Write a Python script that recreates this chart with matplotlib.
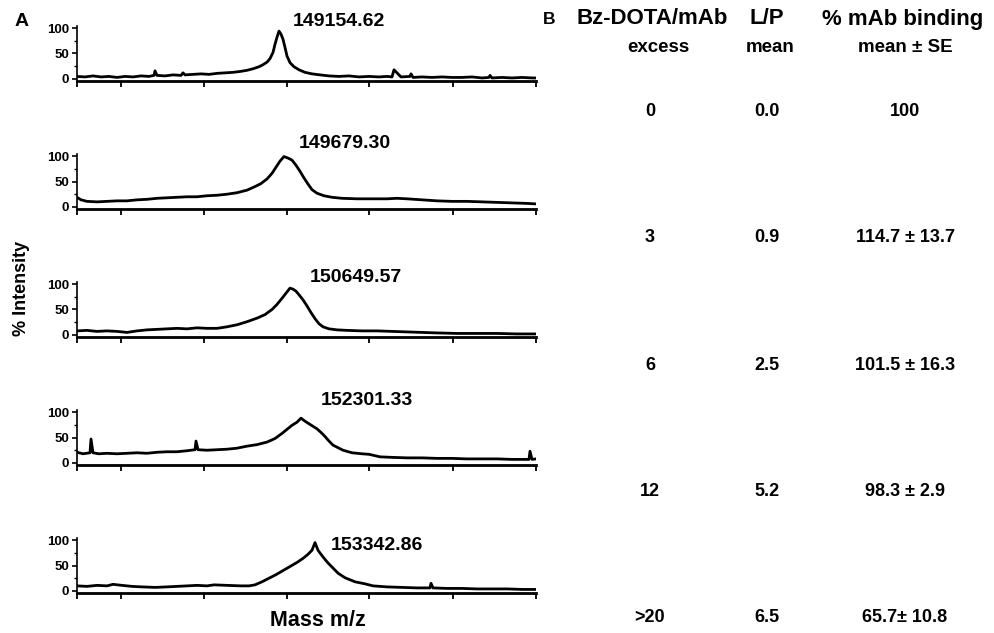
import matplotlib.pyplot as plt

plt.rcParams['font.family'] = ['Liberation Sans', 'DejaVu Sans']

# spectra (x = channel along the m/z axis, y = % intensity)
x1 = [0, 8, 16, 24, 32, 40, 48, 56, 64, 72, 77, 78, 80, 88, 96, 104, 106, 108, 116, 124,
      132, 140, 148, 156, 164, 170, 176, 182, 186, 190, 193, 196, 198, 200, 202, 204, 206, 208, 210, 213,
      217, 222, 228, 235, 243, 252, 262, 272, 282, 292, 302, 310, 315, 317, 324, 333, 334, 336, 345, 355,
      365, 375, 385, 395, 405, 412, 413, 415, 425, 435, 445, 455, 460]
y1 = [5, 4, 6, 4, 5, 3, 5, 4, 6, 5, 7, 16, 7, 6, 8, 7, 12, 8, 9, 10,
      9, 11, 12, 13, 15, 17, 20, 24, 28, 33, 40, 52, 68, 82, 94, 88, 78, 62, 45, 32,
      24, 18, 13, 10, 8, 6, 5, 6, 4, 5, 4, 5, 4, 18, 4, 5, 10, 3, 4, 3,
      4, 3, 3, 4, 2, 3, 7, 2, 3, 2, 3, 2, 2]

x2 = [0, 4, 10, 20, 30, 40, 50, 60, 70, 80, 90, 100, 110, 120, 130, 140, 150, 160, 170, 178,
      184, 190, 195, 199, 203, 207, 211, 215, 219, 223, 227, 231, 235, 240, 247, 255, 265, 280, 295, 310,
      320, 330, 345, 360, 375, 390, 405, 420, 435, 450, 459]
y2 = [19, 14, 11, 10, 11, 12, 12, 14, 15, 17, 18, 19, 20, 20, 22, 23, 25, 28, 33, 40,
      46, 55, 66, 78, 90, 99, 96, 92, 82, 70, 57, 45, 34, 27, 22, 19, 17, 16, 16, 16,
      17, 16, 14, 12, 11, 11, 10, 9, 8, 7, 6]

x3 = [0, 10, 20, 30, 40, 50, 60, 70, 80, 90, 100, 110, 120, 130, 140, 150, 160, 170, 180, 188,
      195, 200, 205, 209, 213, 216, 219, 222, 226, 230, 234, 238, 242, 246, 252, 260, 270, 285, 300, 315,
      330, 345, 360, 380, 400, 420, 440, 459]
y3 = [8, 9, 7, 8, 7, 5, 8, 10, 11, 12, 13, 12, 14, 13, 13, 16, 20, 26, 33, 40,
      50, 60, 72, 82, 92, 90, 86, 79, 69, 57, 44, 32, 22, 16, 12, 10, 9, 8, 8, 7,
      6, 5, 4, 3, 3, 3, 2, 2]

x4 = [0, 6, 13, 14, 16, 22, 30, 40, 50, 60, 70, 80, 90, 100, 110, 118, 119, 121, 130, 140,
      150, 160, 170, 180, 190, 198, 205, 210, 215, 220, 224, 228, 232, 236, 240, 244, 248, 252, 256, 261,
      266, 275, 285, 292, 303, 315, 330, 345, 360, 375, 390, 405, 420, 435, 445, 452, 453, 455, 459]
y4 = [21, 18, 20, 47, 20, 18, 19, 18, 19, 20, 19, 21, 22, 22, 24, 26, 43, 26, 25, 26,
      27, 29, 33, 36, 41, 48, 58, 66, 74, 80, 88, 82, 77, 72, 67, 60, 52, 43, 35, 30,
      25, 20, 18, 17, 12, 11, 10, 10, 9, 9, 8, 8, 8, 7, 7, 7, 23, 7, 8]

x5 = [0, 10, 20, 30, 36, 45, 55, 65, 78, 90, 100, 110, 120, 130, 137, 150, 164, 172, 178, 185,
      192, 199, 206, 213, 220, 226, 231, 235, 238, 241, 244, 248, 251, 256, 261, 268, 278, 288, 296, 310,
      325, 340, 353, 354, 356, 370, 385, 400, 415, 430, 445, 459]
y5 = [10, 9, 11, 10, 13, 11, 9, 8, 7, 8, 9, 10, 11, 10, 12, 11, 10, 10, 12, 18,
      25, 32, 40, 48, 56, 64, 72, 80, 95, 80, 72, 62, 55, 45, 35, 26, 18, 14, 10, 8,
      7, 6, 6, 15, 6, 5, 5, 4, 4, 4, 3, 3]

xs = [x1, x2, x3, x4, x5]
ys = [y1, y2, y3, y4, y5]
peak_labels = ['149154.62', '149679.30', '150649.57', '152301.33', '153342.86']
label_x = [216, 222, 233, 244, 254]
label_y = [112, 125, 112, 122, 90]

xticks = [0, 44, 127, 210, 292, 376, 459]
yticks = [0, 50, 100]

# panel B table
col_heads = ['Bz-DOTA/mAb', 'L/P', '% mAb binding']
col_subs = ['excess', 'mean', 'mean ± SE']
excess = ['0', '3', '6', '12', '>20']
lp_mean = ['0.0', '0.9', '2.5', '5.2', '6.5']
binding = ['100', '114.7 ± 13.7', '101.5 ± 16.3', '98.3 ± 2.9', '65.7± 10.8']

W, H = 994, 633
fig = plt.figure(figsize=(W / 100, H / 100), dpi=100)

for i in range(5):
    base = 81 + 128 * i
    ax = fig.add_axes([77 / W, 1 - base / H, 459 / W, 55 / H])
    ax.plot(xs[i], ys[i], color='black', lw=2.0)
    ax.set_xlim(0, 459)
    ax.set_ylim(-4, 104)
    ax.set_xticks(xticks)
    ax.set_xticklabels([])
    ax.set_yticks(yticks)
    ax.set_yticks([25, 75], minor=True)
    ax.set_yticklabels([str(t) for t in yticks], fontsize=9.5, fontweight='bold')
    ax.tick_params(axis='x', direction='out', length=4, width=1.3)
    ax.tick_params(axis='y', which='major', direction='out', length=3.5, width=1.2, pad=2)
    ax.tick_params(axis='y', which='minor', direction='out', length=2, width=1)
    for s in ['top', 'right']:
        ax.spines[s].set_visible(False)
    ax.spines['bottom'].set_linewidth(2)
    ax.spines['left'].set_linewidth(1.2)
    ax.text(label_x[i], label_y[i], peak_labels[i], fontsize=14, fontweight='bold',
            ha='left', va='center', clip_on=False)

fig.text(22 / W, 1 - 22 / H, 'A', fontsize=14, fontweight='bold', ha='center', va='center')
fig.text(22 / W, 1 - 288 / H, '% Intensity', fontsize=13, fontweight='bold',
         rotation=90, ha='center', va='center')
fig.text(318 / W, 1 - 621 / H, 'Mass m/z', fontsize=15.5, fontweight='bold',
         ha='center', va='center')

fig.text(549 / W, 1 - 20 / H, 'B', fontsize=12.5, fontweight='bold', ha='center', va='center')
col_x = [652, 767, 903]
sub_x = [658, 770, 905]
for j in range(3):
    fig.text(col_x[j] / W, 1 - 19 / H, col_heads[j], fontsize=16, fontweight='bold',
             ha='center', va='center')
    fig.text(sub_x[j] / W, 1 - 48 / H, col_subs[j], fontsize=13.5, fontweight='bold',
             ha='center', va='center')

row_y = [111, 238, 365, 491, 617]
for r in range(5):
    fig.text(650 / W, 1 - row_y[r] / H, excess[r], fontsize=13, fontweight='bold',
             ha='center', va='center')
    fig.text(767 / W, 1 - row_y[r] / H, lp_mean[r], fontsize=13, fontweight='bold',
             ha='center', va='center')
    fig.text(905 / W, 1 - row_y[r] / H, binding[r], fontsize=13, fontweight='bold',
             ha='center', va='center')

fig.savefig('out.png', dpi=100)
